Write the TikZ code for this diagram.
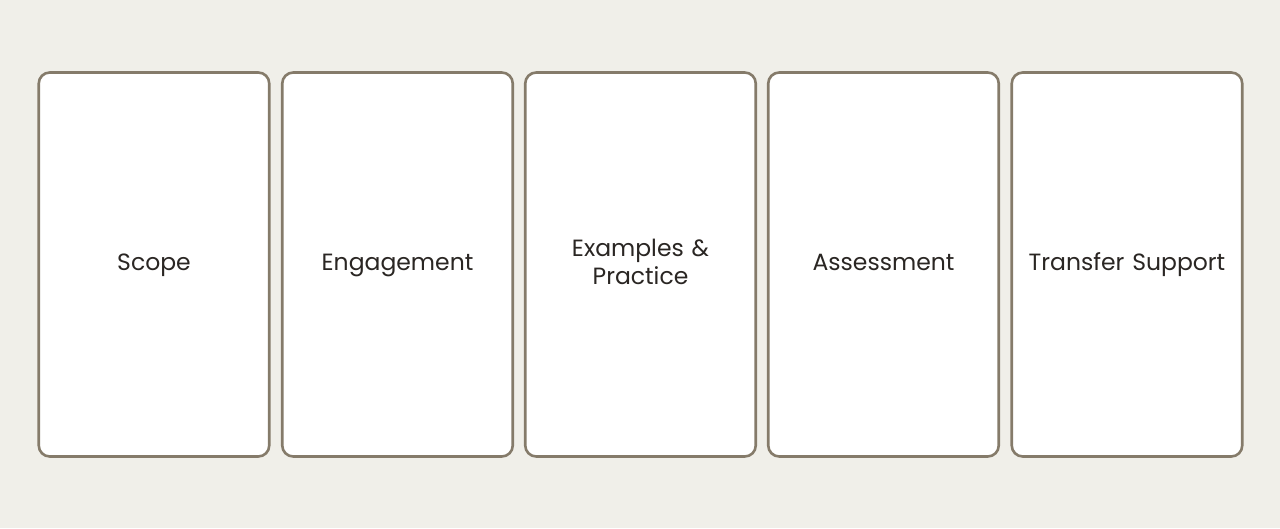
\documentclass[tikz,border=0pt]{standalone}
\usepackage{fontspec}
\setmainfont{Poppins}
\definecolor{bg}{HTML}{F0EFE9}
\definecolor{edge}{HTML}{857B6A}
\definecolor{ink}{HTML}{2A2623}
\newcommand{\lowstrut}{\rule[-7.4pt]{0pt}{26.6pt}}
\begin{document}
\begin{tikzpicture}[x=1pt,y=-1pt,
  card/.style={draw=edge, line width=2.6pt, fill=white, rounded corners=11pt,
    minimum width=230.5pt, minimum height=384pt, inner sep=0pt,
    text=ink, font=\fontsize{23.5}{28}\selectfont, align=center, text width=225pt}]
\fill[bg] (0,0) rectangle (1280,528);
\useasboundingbox (0,0) rectangle (1280,528);
\node[card] (scope) at (154,264.5) {\lowstrut Scope};
\node[card] (eng) at (397.5,264.5) {\lowstrut Engagement};
\node[card] (ex) at (640.5,264.5) {\lowstrut Examples \&\\\lowstrut Practice};
\node[card] (ass) at (883.5,264.5) {\lowstrut Assessment};
\node[card] (tr) at (1127,264.5) {\lowstrut Transfer Support};
\end{tikzpicture}
\end{document}
